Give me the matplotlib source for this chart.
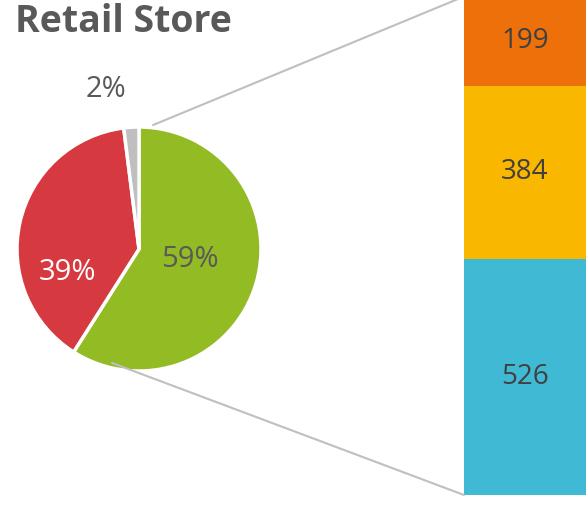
import matplotlib.pyplot as plt
from matplotlib.patches import ConnectionPatch

plt.rcParams['font.family'] = ['Open Sans', 'DejaVu Sans']

# pie: share of each segment (%)
pie_labels = ['Retail', 'Online', 'Other']
pie_shares = [59, 39, 2]
pie_colors = ['#93BB23', '#D63A40', '#BFBFBF']

# bar: breakdown of the green slice
bar_labels = ['A', 'B', 'C']
bar_values = [526, 384, 199]
bar_colors = ['#40B9D4', '#F9B700', '#EE700A']

W, H = 586, 505
fig = plt.figure(figsize=(W / 100, H / 100), dpi=100)

fig.text(15 / W, 1 - 3 / H, 'Retail Store', fontsize=27, fontweight='bold',
         color='#595959', ha='left', va='top')

# --- pie ---
cx, cy, r = 139, 249, 122
ax1 = fig.add_axes([(cx - r) / W, (H - cy - r) / H, 2 * r / W, 2 * r / H])
wedges, _ = ax1.pie(pie_shares, colors=pie_colors, startangle=90, counterclock=False,
                    radius=1, wedgeprops=dict(edgecolor='white', linewidth=2.5))
ax1.set_xlim(-1, 1)
ax1.set_ylim(-1, 1)
ax1.set_aspect('equal')
ax1.axis('off')

label_pos = [(0.42, -0.09), (-0.59, -0.19), (-0.27, 1.31)]
label_col = ['#595959', 'white', '#595959']
for share, (x, y), c in zip(pie_shares, label_pos, label_col):
    ax1.text(x, y, f'{share}%', ha='center', va='center', fontsize=21, color=c)

# --- stacked bar ---
total = sum(bar_values)
bar_bottom, bar_top = 495, -3.5
ax2 = fig.add_axes([464 / W, (H - bar_bottom) / H, (W - 464) / W, (bar_bottom - bar_top) / H])
bottom = 0
for v, c in zip(bar_values, bar_colors):
    ax2.bar(0, v, bottom=bottom, width=1, color=c, edgecolor='none')
    ax2.text(0, bottom + v / 2, str(v), ha='center', va='center', fontsize=20, color='#404040')
    bottom += v
ax2.set_xlim(-0.5, 0.5)
ax2.set_ylim(0, total)
ax2.axis('off')

# connector lines from pie to bar
for xyA, xyB in [((0.115, 1.016), (-0.5, total)), ((-0.221, -0.934), (-0.5, 0))]:
    con = ConnectionPatch(xyA=xyA, coordsA=ax1.transData, xyB=xyB, coordsB=ax2.transData,
                          color='#BFBFBF', linewidth=1.5)
    fig.add_artist(con)

fig.savefig('out.png', dpi=100)
